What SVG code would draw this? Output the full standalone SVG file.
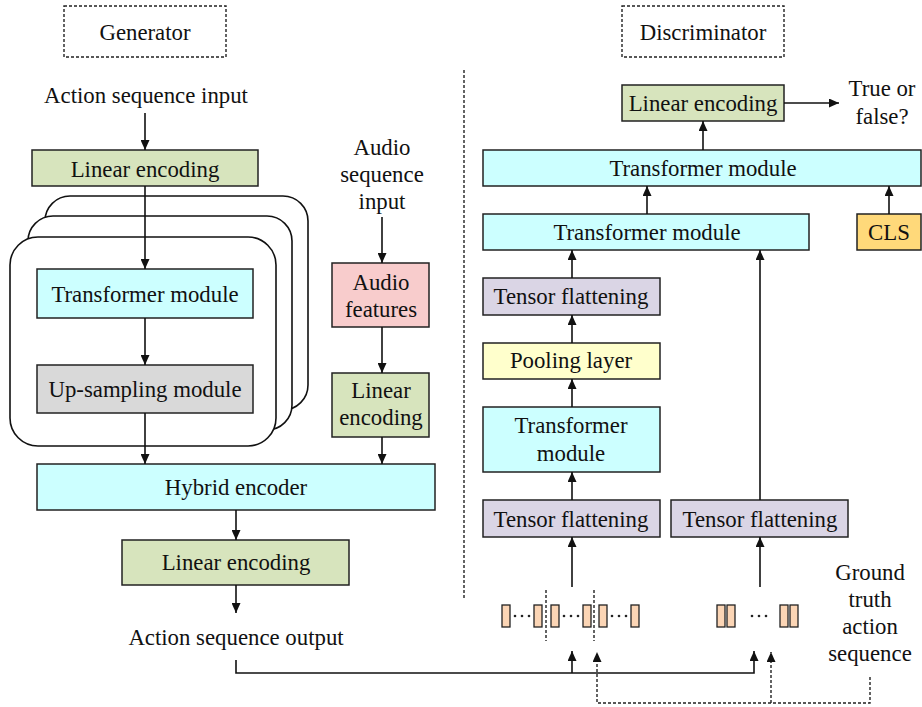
<svg xmlns="http://www.w3.org/2000/svg" width="922" height="707" viewBox="0 0 922 707">
<style>
text{font-family:"Liberation Serif","Times New Roman",serif;font-size:22.8px;fill:#111;text-anchor:middle}
.box{stroke:#222;stroke-width:1.5}
.green{fill:#d7e4bd}.cyan{fill:#ccffff}.gray{fill:#d9d9d9}.pink{fill:#f8cccc}.lav{fill:#dad5e5}.yel{fill:#ffffcc}.cls{fill:#ffd97a}
.tok{fill:#fbd5b5;stroke:#222;stroke-width:1.3}
.stack{fill:#fff;stroke:#111;stroke-width:1.6}
.dash{fill:none;stroke:#222;stroke-width:1.4;stroke-dasharray:3 2}
.line{fill:none;stroke:#111;stroke-width:1.6}
.dot{fill:#222}
</style>
<defs>
<marker id="ah" markerWidth="10" markerHeight="9" refX="10" refY="4.5" orient="auto" markerUnits="userSpaceOnUse">
<path d="M0,0 L10,4.5 L0,9 z" fill="#111"/>
</marker>
</defs>
<g id="generator-title"><rect class="dash" x="64" y="6" width="162" height="51"/><text x="145" y="40">Generator</text></g>
<g id="discriminator-title"><rect class="dash" x="622" y="6" width="162" height="51"/><text x="703" y="40">Discriminator</text></g>
<g id="separator"><line class="dash" x1="464" y1="70" x2="464" y2="598"/></g>
<g id="action-input"><text x="146" y="103">Action sequence input</text></g>
<g id="gen-linear1"><rect class="box green" x="32" y="150" width="226" height="36"/><text x="145" y="177">Linear encoding</text></g>
<g id="stack">
<rect class="stack" x="45" y="196" width="263" height="214" rx="25"/>
<rect class="stack" x="28" y="216" width="264" height="214" rx="25"/>
<rect class="stack" x="10" y="237" width="266" height="209" rx="28"/>
</g>
<g id="gen-transformer"><rect class="box cyan" x="37" y="269" width="216" height="49"/><text x="145" y="302">Transformer module</text></g>
<g id="gen-upsampling"><rect class="box gray" x="37" y="365" width="216" height="48"/><text x="145" y="397">Up-sampling module</text></g>
<g id="audio-input"><text x="382" y="155">Audio</text><text x="382" y="182">sequence</text><text x="382" y="209">input</text></g>
<g id="audio-features"><rect class="box pink" x="332" y="263" width="97" height="64"/><text x="381" y="290">Audio</text><text x="381" y="317">features</text></g>
<g id="audio-linear"><rect class="box green" x="332" y="373" width="97" height="64"/><text x="381" y="398">Linear</text><text x="381" y="425">encoding</text></g>
<g id="hybrid-encoder"><rect class="box cyan" x="37" y="464" width="398" height="46"/><text x="236" y="495">Hybrid encoder</text></g>
<g id="gen-linear2"><rect class="box green" x="122" y="540" width="227" height="45"/><text x="236" y="570">Linear encoding</text></g>
<g id="action-output"><text x="236" y="645">Action sequence output</text></g>
<g id="disc-linear"><rect class="box green" x="622" y="85" width="162" height="36"/><text x="703" y="111">Linear encoding</text></g>
<g id="true-false"><text x="882" y="96">True or</text><text x="882" y="124">false?</text></g>
<g id="disc-transformer1"><rect class="box cyan" x="483" y="150" width="438" height="36"/><text x="703" y="176">Transformer module</text></g>
<g id="disc-transformer2"><rect class="box cyan" x="483" y="214" width="326" height="36"/><text x="647" y="240">Transformer module</text></g>
<g id="cls"><rect class="box cls" x="857" y="214" width="64" height="36"/><text x="889" y="240">CLS</text></g>
<g id="tensor-flat-top"><rect class="box lav" x="483" y="278" width="177" height="37"/><text x="571" y="304">Tensor flattening</text></g>
<g id="pooling"><rect class="box yel" x="483" y="343" width="177" height="36"/><text x="571" y="368">Pooling layer</text></g>
<g id="disc-transformer3"><rect class="box cyan" x="483" y="407" width="177" height="65"/><text x="571" y="433">Transformer</text><text x="571" y="461">module</text></g>
<g id="tensor-flat-left"><rect class="box lav" x="483" y="500" width="177" height="37"/><text x="571" y="527">Tensor flattening</text></g>
<g id="tensor-flat-right"><rect class="box lav" x="671" y="500" width="177" height="37"/><text x="760" y="527">Tensor flattening</text></g>
<g id="ground-truth"><text x="870" y="580">Ground</text><text x="870" y="607">truth</text><text x="870" y="634">action</text><text x="870" y="661">sequence</text></g>
<g id="tokens-left">
<rect class="tok" x="502" y="605" width="8" height="22"/>
<rect class="tok" x="534" y="605" width="8" height="22"/>
<rect class="tok" x="551" y="605" width="8" height="22"/>
<rect class="tok" x="583" y="605" width="8" height="22"/>
<rect class="tok" x="599" y="605" width="8" height="22"/>
<rect class="tok" x="631" y="605" width="8" height="22"/>
<circle class="dot" cx="515" cy="616" r="1.3"/><circle class="dot" cx="522" cy="616" r="1.3"/><circle class="dot" cx="529" cy="616" r="1.3"/>
<circle class="dot" cx="564" cy="616" r="1.3"/><circle class="dot" cx="571" cy="616" r="1.3"/><circle class="dot" cx="578" cy="616" r="1.3"/>
<circle class="dot" cx="612" cy="616" r="1.3"/><circle class="dot" cx="619" cy="616" r="1.3"/><circle class="dot" cx="626" cy="616" r="1.3"/>
<line class="dash" x1="546" y1="590" x2="546" y2="641"/>
<line class="dash" x1="594" y1="590" x2="594" y2="641"/>
</g>
<g id="tokens-right">
<rect class="tok" x="717" y="605" width="8" height="22"/>
<rect class="tok" x="727" y="605" width="8" height="22"/>
<rect class="tok" x="780" y="605" width="8" height="22"/>
<rect class="tok" x="790" y="605" width="8" height="22"/>
<circle class="dot" cx="752" cy="616" r="1.3"/><circle class="dot" cx="759" cy="616" r="1.3"/><circle class="dot" cx="766" cy="616" r="1.3"/>
</g>
<g id="connectors">
<line class="line" x1="145" y1="113" x2="145" y2="150" marker-end="url(#ah)"/>
<line class="line" x1="145" y1="186" x2="145" y2="269" marker-end="url(#ah)"/>
<line class="line" x1="145" y1="318" x2="145" y2="365" marker-end="url(#ah)"/>
<line class="line" x1="145" y1="413" x2="145" y2="464" marker-end="url(#ah)"/>
<line class="line" x1="382" y1="217" x2="382" y2="263" marker-end="url(#ah)"/>
<line class="line" x1="382" y1="327" x2="382" y2="373" marker-end="url(#ah)"/>
<line class="line" x1="382" y1="437" x2="382" y2="464" marker-end="url(#ah)"/>
<line class="line" x1="236" y1="510" x2="236" y2="540" marker-end="url(#ah)"/>
<line class="line" x1="236" y1="585" x2="236" y2="613" marker-end="url(#ah)"/>
<polyline class="line" points="236,660 236,673 754,673 754,651" marker-end="url(#ah)"/>
<line class="line" x1="572" y1="673" x2="572" y2="651" marker-end="url(#ah)"/>
<polyline class="dash" points="870,677 870,703 597,703 597,652" marker-end="url(#ah)"/>
<line class="dash" x1="771" y1="703" x2="771" y2="652" marker-end="url(#ah)"/>
<line class="line" x1="572" y1="587" x2="572" y2="537" marker-end="url(#ah)"/>
<line class="line" x1="760" y1="587" x2="760" y2="537" marker-end="url(#ah)"/>
<line class="line" x1="572" y1="500" x2="572" y2="472" marker-end="url(#ah)"/>
<line class="line" x1="572" y1="407" x2="572" y2="379" marker-end="url(#ah)"/>
<line class="line" x1="572" y1="343" x2="572" y2="315" marker-end="url(#ah)"/>
<line class="line" x1="572" y1="278" x2="572" y2="250" marker-end="url(#ah)"/>
<line class="line" x1="760" y1="500" x2="760" y2="250" marker-end="url(#ah)"/>
<line class="line" x1="647" y1="214" x2="647" y2="186" marker-end="url(#ah)"/>
<line class="line" x1="889" y1="214" x2="889" y2="186" marker-end="url(#ah)"/>
<line class="line" x1="703" y1="150" x2="703" y2="121" marker-end="url(#ah)"/>
<line class="line" x1="784" y1="103" x2="839" y2="103" marker-end="url(#ah)"/>
</g>
</svg>
